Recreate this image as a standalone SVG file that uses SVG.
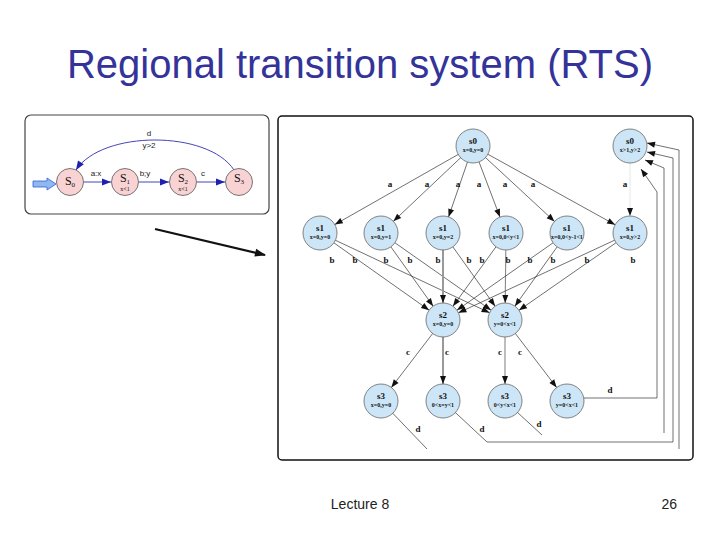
<svg xmlns="http://www.w3.org/2000/svg" width="720" height="540" viewBox="0 0 720 540">
<defs>
<style>
.title{font-family:"Liberation Sans",Arial,sans-serif;font-size:40px;fill:#333399;text-anchor:middle}
.foot{font-family:"Liberation Sans",Arial,sans-serif;font-size:14px;fill:#222}
.nd circle{fill:#cde6f7;stroke:#666;stroke-width:0.8}
.nm{font-family:"Liberation Serif",serif;font-weight:bold;font-size:9px;text-anchor:middle;fill:#111}
.cs{font-family:"Liberation Serif",serif;font-weight:bold;font-size:6px;text-anchor:middle;fill:#111}
.e{stroke:#333;stroke-width:0.7;fill:none;marker-end:url(#arrN)}
.eg{stroke:#999;stroke-width:2;fill:none;marker-end:url(#arrN)}
.eg2{stroke:#888;stroke-width:1.1;fill:none;marker-end:url(#arrN)}
.ef{stroke:#ddd;stroke-width:0.7;fill:none;marker-end:url(#arrN)}
.ln{stroke:#333;stroke-width:0.7;fill:none}
.lnA{stroke:#333;stroke-width:0.7;fill:none;marker-end:url(#arr)}
.lb{font-family:"Liberation Serif",serif;font-weight:bold;font-size:9px;text-anchor:middle;fill:#111}
.sn circle{fill:#f9d3d3;stroke:#555;stroke-width:0.8}
.sl{font-family:"Liberation Serif",serif;font-size:12px;text-anchor:middle;fill:#111}
.ss{font-family:"Liberation Serif",serif;font-size:6px;text-anchor:middle;fill:#111}
.se{stroke:#3030b0;stroke-width:0.9;fill:none;marker-end:url(#arrB)}
.slb{font-family:"Liberation Sans",Arial,sans-serif;font-size:8px;text-anchor:middle;fill:#222}
</style>
<marker id="arrN" markerUnits="userSpaceOnUse" markerWidth="8" markerHeight="6" refX="25" refY="3" orient="auto" overflow="visible"><path d="M0,0 L8,3 L0,6 z" fill="#111"/></marker>
<marker id="arr" markerUnits="userSpaceOnUse" markerWidth="8" markerHeight="6" refX="8" refY="3" orient="auto" overflow="visible"><path d="M0,0 L8,3 L0,6 z" fill="#111"/></marker>
<marker id="arrB" markerUnits="userSpaceOnUse" markerWidth="9" markerHeight="7" refX="9" refY="3.5" orient="auto" overflow="visible"><path d="M0,0 L9,3.5 L0,7 z" fill="#2020b0"/></marker>
<marker id="arrK" markerUnits="userSpaceOnUse" markerWidth="11" markerHeight="8" refX="10" refY="4" orient="auto" overflow="visible"><path d="M0,0 L11,4 L0,8 z" fill="#111"/></marker>
</defs>
<rect width="720" height="540" fill="#fff"/>
<text class="title" x="360" y="78">Regional transition system (RTS)</text>

<!-- small automaton frame -->
<rect x="25" y="115" width="244" height="99" rx="6" fill="#fff" stroke="#444" stroke-width="1.2"/>
<!-- big RTS frame -->
<rect x="278" y="116" width="415" height="344" rx="4" fill="#fff" stroke="#111" stroke-width="1.5"/>

<g id="connectors">
  <!-- small automaton -->
  <path d="M33,181 H47 V178 L56,184 L47,190 V187 H33 Z" fill="#8fb8f0" stroke="#3060d0" stroke-width="0.8"/>
  <path class="se" d="M84,182 L111,182"/>
  <path class="se" d="M139,182 L169,182"/>
  <path class="se" d="M197,182 L225,182"/>
  <path class="se" d="M234,170 C208,130 102,130 76,170"/>
  <!-- big arrow -->
  <path d="M155,229 L265,255" stroke="#111" stroke-width="2.3" fill="none" marker-end="url(#arrK)"/>
  <!-- a edges -->
  <path class="e" d="M473,146 L320,233"/>
  <path class="e" d="M473,146 L381,233"/>
  <path class="e" d="M473,146 L443,233"/>
  <path class="e" d="M473,146 L506,233"/>
  <path class="e" d="M473,146 L567,233"/>
  <path class="e" d="M473,146 L630,233"/>
  <path class="ef" d="M630,146 L630,233"/>
  <!-- b edges -->
  <path class="e" d="M320,233 L443,320"/>
  <path class="e" d="M320,233 L505,320"/>
  <path class="e" d="M381,233 L443,320"/>
  <path class="e" d="M381,233 L505,320"/>
  <path class="eg" d="M443,233 L443,320"/>
  <path class="e" d="M443,233 L505,320"/>
  <path class="e" d="M506,233 L443,320"/>
  <path class="eg2" d="M506,233 L505,320"/>
  <path class="e" d="M567,233 L443,320"/>
  <path class="e" d="M567,233 L505,320"/>
  <path class="e" d="M630,233 L443,320"/>
  <path class="e" d="M630,233 L505,320"/>
  <!-- c edges -->
  <path class="e" d="M443,320 L381,401"/>
  <path class="eg" d="M443,320 L443,401"/>
  <path class="eg2" d="M505,320 L505,401"/>
  <path class="e" d="M505,320 L567,401"/>
  <!-- d edges -->
  <path class="ln" d="M381,401 L427,449"/>
  <path class="lnA" d="M443,401 L487,442 L673,442 L673,158 L647,152"/>
  <path class="ln" d="M505,401 L542,435"/>
  <path class="lnA" d="M664,433 L664,168 L645,160"/>
  <path class="lnA" d="M567,398 L657,398 L657,192 L641,169"/>
  <path class="lnA" d="M679,449 L679,150 L647,143"/>
</g>

<!-- small automaton nodes -->
<g id="S0" class="sn"><circle cx="70" cy="182" r="13.5"/><text class="sl" x="70" y="185">S<tspan font-size="7" dy="2">0</tspan></text></g>
<g id="S1" class="sn"><circle cx="125" cy="182" r="13.5"/><text class="sl" x="125" y="182">S<tspan font-size="7" dy="2">1</tspan></text><text class="ss" x="125" y="191">x&lt;1</text></g>
<g id="S2" class="sn"><circle cx="183" cy="182" r="13.5"/><text class="sl" x="183" y="182">S<tspan font-size="7" dy="2">2</tspan></text><text class="ss" x="183" y="191">x&lt;1</text></g>
<g id="S3" class="sn"><circle cx="239" cy="182" r="13.5"/><text class="sl" x="239" y="182">S<tspan font-size="7" dy="2">3</tspan></text></g>
<g id="small-labels">
  <text class="slb" x="96" y="176">a:x</text>
  <text class="slb" x="145" y="176">b;y</text>
  <text class="slb" x="203" y="176">c</text>
  <text class="slb" x="149" y="136">d</text>
  <text class="slb" x="149" y="148" font-size="6">y&gt;2</text>
</g>

<!-- RTS nodes -->
<g id="s0-top" class="nd"><circle cx="473" cy="146" r="17"/><text class="nm" x="473" y="144">s0</text><text class="cs" x="473" y="152">x=0,y=0</text></g>
<g id="s0-right" class="nd"><circle cx="630" cy="146" r="17"/><text class="nm" x="630" y="144">s0</text><text class="cs" x="630" y="152">x&gt;1,y&gt;2</text></g>
<g id="s1-a" class="nd"><circle cx="320" cy="233" r="17"/><text class="nm" x="320" y="231">s1</text><text class="cs" x="320" y="239">x=0,y=0</text></g>
<g id="s1-b" class="nd"><circle cx="381" cy="233" r="17"/><text class="nm" x="381" y="231">s1</text><text class="cs" x="381" y="239">x=0,y=1</text></g>
<g id="s1-c" class="nd"><circle cx="443" cy="233" r="17"/><text class="nm" x="443" y="231">s1</text><text class="cs" x="443" y="239">x=0,y=2</text></g>
<g id="s1-d" class="nd"><circle cx="506" cy="233" r="17"/><text class="nm" x="506" y="231">s1</text><text class="cs" x="506" y="239">x=0,0&lt;y&lt;1</text></g>
<g id="s1-e" class="nd"><circle cx="567" cy="233" r="17"/><text class="nm" x="567" y="231">s1</text><text class="cs" x="567" y="239" font-size="5.5">x=0,0&lt;y-1&lt;1</text></g>
<g id="s1-f" class="nd"><circle cx="630" cy="233" r="17"/><text class="nm" x="630" y="231">s1</text><text class="cs" x="630" y="239">x=0,y&gt;2</text></g>
<g id="s2-a" class="nd"><circle cx="443" cy="320" r="17"/><text class="nm" x="443" y="318">s2</text><text class="cs" x="443" y="326">x=0,y=0</text></g>
<g id="s2-b" class="nd"><circle cx="505" cy="320" r="17"/><text class="nm" x="505" y="318">s2</text><text class="cs" x="505" y="326">y=0&lt;x&lt;1</text></g>
<g id="s3-a" class="nd"><circle cx="381" cy="401" r="17"/><text class="nm" x="381" y="399">s3</text><text class="cs" x="381" y="407">x=0,y=0</text></g>
<g id="s3-b" class="nd"><circle cx="443" cy="401" r="17"/><text class="nm" x="443" y="399">s3</text><text class="cs" x="443" y="407">0&lt;x=y&lt;1</text></g>
<g id="s3-c" class="nd"><circle cx="505" cy="401" r="17"/><text class="nm" x="505" y="399">s3</text><text class="cs" x="505" y="407">0&lt;y&lt;x&lt;1</text></g>
<g id="s3-d" class="nd"><circle cx="567" cy="401" r="17"/><text class="nm" x="567" y="399">s3</text><text class="cs" x="567" y="407">y=0&lt;x&lt;1</text></g>

<g id="edge-labels">
  <text class="lb" x="390" y="187">a</text><text class="lb" x="427" y="187">a</text><text class="lb" x="458" y="187">a</text><text class="lb" x="479" y="187">a</text><text class="lb" x="505" y="187">a</text><text class="lb" x="533" y="187">a</text><text class="lb" x="625" y="187">a</text>
  <text class="lb" x="332" y="263">b</text><text class="lb" x="355" y="263">b</text><text class="lb" x="386" y="263">b</text><text class="lb" x="410" y="263">b</text><text class="lb" x="438" y="263">b</text><text class="lb" x="469" y="263">b</text><text class="lb" x="482" y="263">b</text><text class="lb" x="508" y="263">b</text><text class="lb" x="530" y="263">b</text><text class="lb" x="553" y="263">b</text><text class="lb" x="587" y="263">b</text><text class="lb" x="633" y="263">b</text>
  <text class="lb" x="408" y="355">c</text><text class="lb" x="447" y="355">c</text><text class="lb" x="500" y="355">c</text><text class="lb" x="520" y="355">c</text>
  <text class="lb" x="418" y="432">d</text><text class="lb" x="482" y="432">d</text><text class="lb" x="539" y="427">d</text><text class="lb" x="610" y="393">d</text>
</g>

<text class="foot" x="360" y="509" text-anchor="middle">Lecture 8</text>
<text class="foot" x="677" y="509" text-anchor="end">26</text>
</svg>
